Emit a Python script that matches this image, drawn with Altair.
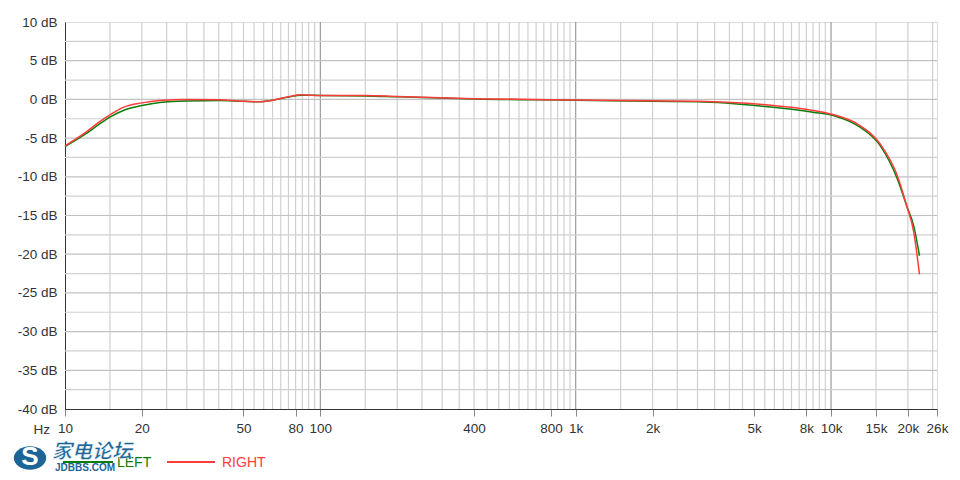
import altair as alt
import pandas as pd

# ---- data ----
freq = [10, 12, 13.5, 15, 17, 20, 23.5, 30, 40, 50, 57, 65, 75, 84, 100, 150, 200, 400,
        1000, 2000, 3000, 5400, 8500, 10500, 12800, 15600, 18200, 19800, 21100, 22200]
right_db = [-6.0, -4.3, -3.0, -2.0, -1.0, -0.45, -0.14, 0.0, -0.05, -0.25, -0.3, -0.1, 0.35,
            0.6, 0.5, 0.5, 0.37, 0.1, -0.08, -0.18, -0.23, -0.66, -1.43, -2.08, -3.25, -5.8,
            -9.9, -13.8, -17.2, -22.6]
left_db = [-6.1, -4.5, -3.3, -2.3, -1.4, -0.8, -0.4, -0.2, -0.15, -0.25, -0.3, -0.1, 0.3,
           0.55, 0.5, 0.45, 0.33, 0.05, -0.1, -0.25, -0.3, -0.87, -1.65, -2.2, -3.45, -6.0,
           -10.3, -13.8, -16.4, -20.2]

x_ticks = [10, 20, 50, 80, 100, 400, 800, 1000, 2000, 5000, 8000, 10000, 15000, 20000, 26000]
y_ticks = [-40, -35, -30, -25, -20, -15, -10, -5, 0, 5, 10]
decades = [10, 100, 1000, 10000]
multipliers = [1, 1.5, 2, 2.5, 3, 3.5, 4, 4.5, 5, 5.5, 6, 6.5, 7, 7.5, 8, 8.5, 9, 9.5]
h_grid = [-37.5, -35, -32.5, -30, -27.5, -25, -22.5, -20, -17.5, -15, -12.5, -10, -7.5,
          -5, -2.5, 0, 2.5, 5, 7.5]

W, H = 872, 387
GREEN = "#0a7d0a"
RED = "#ff3c3c"
BLUE = "#1d6597"
FONT = "Liberation Sans"

xs = alt.Scale(type="log", domain=[10, 26000], nice=False)
ys = alt.Scale(domain=[-40, 10], nice=False)

x_axis = alt.Axis(values=x_ticks, grid=False, tickSize=7, tickColor="#888",
                  domainColor="#333", labelColor="#333", labelFontSize=13.5,
                  labelFont=FONT, labelPadding=5, labelFlush=False, labelOverlap=False,
                  labelExpr="datum.value >= 1000 ? (datum.value/1000) + 'k' : '' + datum.value")
y_axis = alt.Axis(values=y_ticks, grid=False, ticks=False, domainColor="#333",
                  labelColor="#333", labelFontSize=13.5, labelFont=FONT, labelPadding=8,
                  labelOverlap=False, labelFlush=False,
                  labelExpr="datum.value + ' dB'")

# grid lines
vg = []
for d in decades:
    for m in multipliers:
        f = d * m
        if 10 < f < 26000:
            vg.append({"f": f, "c": "#9a9a9a" if m == 1 else "#d0d0d0"})
vgrid = alt.Chart(pd.DataFrame(vg)).mark_rule(strokeWidth=1.2).encode(
    x=alt.X("f:Q", scale=xs, title=None, axis=x_axis), color=alt.Color("c:N", scale=None))
hgrid = alt.Chart(pd.DataFrame({"v": h_grid,
                                "c": ["#c2c2c2" if v % 5 == 0 else "#d0d0d0" for v in h_grid]})
                  ).mark_rule(strokeWidth=1.2).encode(
    y=alt.Y("v:Q", scale=ys, title=None, axis=y_axis), color=alt.Color("c:N", scale=None))

# curves
rows = []
for f, l, r in zip(freq, left_db, right_db):
    rows.append({"f": f, "db": l, "s": "LEFT"})
    rows.append({"f": f, "db": r, "s": "RIGHT"})
df = pd.DataFrame(rows)

lines = alt.Chart(df).mark_line(strokeWidth=1.5, interpolate="monotone").encode(
    x=alt.X("f:Q", scale=xs, title=None, axis=x_axis),
    y=alt.Y("db:Q", scale=ys, title=None, axis=y_axis),
    color=alt.Color("s:N", scale=alt.Scale(domain=["LEFT", "RIGHT"], range=[GREEN, RED]),
                    legend=None),
)

one = pd.DataFrame({"a": [0]})
hz = alt.Chart(one).mark_text(text="Hz", align="right", baseline="middle", fontSize=13.5,
                              font=FONT, color="#333").encode(
    x=alt.value(-15), y=alt.value(H + 21))

leg_g = alt.Chart(one).mark_rule(color=GREEN, strokeWidth=2).encode(
    x=alt.value(-2), x2=alt.value(48), y=alt.value(440))
leg_gt = alt.Chart(one).mark_text(text="LEFT", align="left", baseline="middle", fontSize=14,
                                  font=FONT, color=GREEN).encode(x=alt.value(52), y=alt.value(441))
leg_r = alt.Chart(one).mark_rule(color=RED, strokeWidth=2).encode(
    x=alt.value(102), x2=alt.value(150), y=alt.value(440))
leg_rt = alt.Chart(one).mark_text(text="RIGHT", align="left", baseline="middle", fontSize=14,
                                  font=FONT, color=RED).encode(x=alt.value(157), y=alt.value(441))

# watermark
logo = alt.Chart(one).mark_point(
    shape="M -1 0 A 1 0.72 0 1 0 1 0 A 1 0.72 0 1 0 -1 0 Z", filled=True, size=1050,
    color=BLUE, opacity=1).encode(x=alt.value(-35), y=alt.value(436))
swoosh = alt.Chart(one).mark_text(text="S", fontSize=26, fontWeight="bold", font=FONT,
                                  color="white", align="center", baseline="middle").encode(
    x=alt.value(-35), y=alt.value(435))
wm = alt.Chart(one).mark_text(text="家电论坛", fontSize=20, fontWeight="bold", fontStyle="italic",
                              font="Noto Sans CJK SC", color=BLUE, align="left",
                              baseline="middle", stroke="white", strokeWidth=0.5).encode(
    x=alt.value(-13), y=alt.value(430))
wm2 = alt.Chart(one).mark_text(text="JDBBS.COM", fontSize=10, font=FONT, color=BLUE,
                               align="left", baseline="middle", fontWeight="bold").encode(
    x=alt.value(-10), y=alt.value(446))

chart = alt.layer(vgrid, hgrid, lines, hz, leg_g, leg_gt, leg_r, leg_rt,
                  logo, swoosh, wm, wm2).properties(
    width=W, height=H,
    padding={"left": 57, "top": 14, "right": 15, "bottom": 65},
    autosize=alt.AutoSizeParams(type="none"),
).configure_view(stroke="#333", strokeWidth=1).configure(background="white")

chart.save("out.html", embed_options={"renderer": "svg", "actions": False})
